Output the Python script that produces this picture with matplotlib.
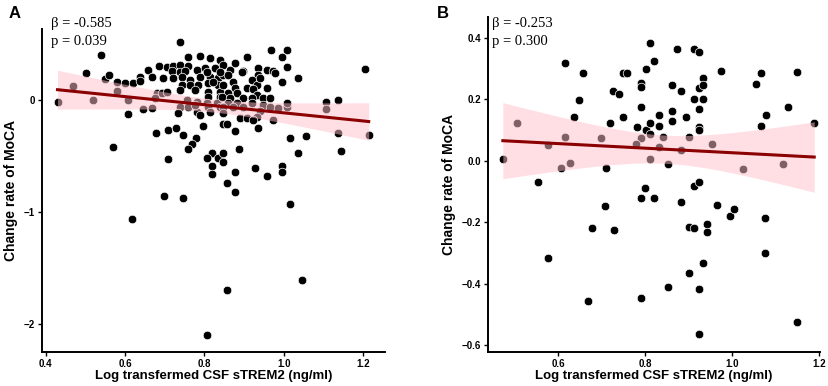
import numpy as np
import matplotlib
matplotlib.use('Agg')
import matplotlib.pyplot as plt

# panel A data (log CSF sTREM2 vs change rate of MoCA)
a_x = [0.430, 0.539, 0.501, 0.470, 0.520, 0.549, 0.559, 0.579, 0.579, 0.600,
       0.621, 0.608, 0.608, 0.570, 0.618, 0.738, 0.758, 0.789, 0.814, 0.839,
       0.685, 0.706, 0.721, 0.738, 0.758, 0.658, 0.718, 0.738, 0.751, 0.781,
       0.801, 0.826, 0.638, 0.668, 0.695, 0.721, 0.743, 0.763, 0.789, 0.814,
       0.834, 0.638, 0.743, 0.763, 0.784, 0.809, 0.834, 0.738, 0.776, 0.809,
       0.839, 0.680, 0.693, 0.706, 0.675, 0.809, 0.839, 0.756, 0.781, 0.806,
       0.832, 0.738, 0.758, 0.809, 0.839, 0.645, 0.668, 0.733, 0.781, 0.789,
       0.814, 0.678, 0.708, 0.728, 0.746, 0.796, 0.779, 0.769, 0.758, 0.708,
       0.819, 0.806, 0.834, 0.819, 0.819, 0.698, 0.746, 0.806, 0.847, 0.864,
       0.877, 0.897, 0.907, 0.935, 0.957, 0.972, 0.967, 1.008, 1.008, 0.995,
       1.035, 0.847, 0.859, 0.935, 0.995, 0.920, 0.872, 0.932, 0.847, 0.877,
       0.907, 0.922, 0.957, 0.859, 0.882, 0.932, 0.844, 0.864, 0.897, 0.920,
       0.947, 0.965, 0.859, 0.882, 0.920, 0.947, 0.847, 0.872, 0.897, 0.965,
       0.985, 1.008, 1.008, 0.847, 0.940, 0.932, 0.889, 0.907, 0.922, 0.972,
       0.847, 0.857, 0.877, 0.935, 1.015, 1.056, 1.035, 0.887, 0.847, 0.847,
       0.927, 0.877, 0.995, 0.995, 0.957, 0.857, 0.877, 1.015, 1.046, 0.857,
       1.204, 1.106, 1.106, 1.136, 1.214, 1.136, 1.144, 0.839, 0.894, 0.940,
       0.977, 0.776, 0.806, 0.821]
a_y = [-0.015, 0.402, 0.238, 0.125, 0.000, 0.185, 0.223, 0.163, 0.080, 0.155,
       0.155, 0.000, -0.128, -0.417, -1.065, 0.518, 0.384, 0.393, 0.375, 0.357,
       0.304, 0.295, 0.304, 0.313, 0.304, 0.268, 0.259, 0.250, 0.259, 0.268,
       0.286, 0.286, 0.205, 0.205, 0.196, 0.196, 0.205, 0.179, 0.205, 0.205,
       0.196, 0.170, 0.134, 0.134, 0.134, 0.152, 0.134, 0.089, 0.089, 0.071,
       0.071, 0.063, 0.063, 0.071, 0.018, 0.027, 0.027, 0.000, -0.018, -0.027,
       -0.027, -0.063, -0.063, -0.063, -0.063, -0.080, -0.071, -0.116, -0.107, -0.134,
       -0.107, -0.295, -0.268, -0.250, -0.313, -0.232, -0.339, -0.393, -0.438, -0.527,
       -0.473, -0.518, -0.518, -0.589, -0.661, -0.857, -0.875, -2.098, 0.313, 0.268,
       0.330, 0.259, 0.384, 0.286, 0.268, 0.259, 0.446, 0.446, 0.295, 0.384,
       0.196, 0.223, 0.223, 0.223, 0.161, 0.179, 0.161, 0.134, 0.134, 0.107,
       0.107, 0.098, 0.107, 0.063, 0.063, 0.045, 0.027, 0.018, 0.018, 0.018,
       0.018, 0.018, -0.027, -0.027, -0.027, -0.045, -0.063, -0.063, -0.063, -0.063,
       -0.071, -0.063, -0.027, -0.116, -0.098, -0.152, -0.161, -0.161, -0.179, -0.179,
       -0.214, -0.214, -0.277, -0.250, -0.339, -0.321, -0.473, -0.438, -0.473, -0.554,
       -0.607, -0.643, -0.589, -0.643, -0.679, -0.741, -0.821, -0.929, -1.607, -1.696,
       0.277, -0.018, -0.080, 0.000, -0.313, -0.295, -0.455, 0.250, 0.250, 0.196,
       0.241, -0.045, 0.250, 0.161]

# panel B data
b_x = [0.473, 0.505, 0.555, 0.576, 0.616, 0.616, 0.606, 0.628, 0.637, 0.648,
       0.657, 0.698, 0.710, 0.720, 0.727, 0.739, 0.749, 0.758, 0.749, 0.811,
       0.873, 0.913, 0.925, 0.821, 0.802, 0.790, 0.790, 0.861, 0.883, 0.934,
       0.925, 0.934, 0.913, 0.934, 0.975, 1.067, 1.055, 1.149, 0.790, 0.861,
       0.832, 0.894, 0.924, 1.128, 1.077, 0.781, 0.802, 0.811, 0.832, 0.861,
       0.924, 0.924, 1.067, 1.189, 0.790, 0.811, 0.779, 0.841, 0.902, 0.832,
       0.882, 0.955, 0.811, 0.852, 1.026, 1.118, 0.800, 0.913, 0.924, 0.708,
       0.677, 0.729, 0.576, 0.668, 0.790, 0.821, 0.882, 0.965, 0.995, 1.005,
       1.076, 0.902, 0.913, 0.943, 0.943, 1.076, 0.934, 0.902, 0.852, 0.924,
       0.790, 1.149, 0.924]
b_y = [0.005, 0.124, -0.068, 0.050, 0.317, 0.076, -0.023, -0.007, 0.141, 0.197,
       0.286, 0.073, -0.023, 0.124, 0.228, 0.217, 0.284, 0.286, 0.141, 0.382,
       0.362, 0.362, 0.354, 0.324, 0.297, 0.252, 0.239, 0.246, 0.228, 0.268,
       0.235, 0.246, 0.200, 0.200, 0.293, 0.284, 0.248, 0.287, 0.174, 0.162,
       0.149, 0.143, 0.167, 0.176, 0.149, 0.109, 0.100, 0.122, 0.114, 0.130,
       0.111, 0.100, 0.113, 0.122, 0.075, 0.087, 0.054, 0.076, 0.076, 0.044,
       0.035, 0.054, 0.005, -0.012, -0.027, -0.011, -0.088, -0.082, -0.068, -0.146,
       -0.220, -0.225, -0.315, -0.456, -0.120, -0.120, -0.135, -0.144, -0.179, -0.158,
       -0.185, -0.217, -0.220, -0.206, -0.232, -0.301, -0.334, -0.364, -0.410, -0.418,
       -0.446, -0.526, -0.565]

stats_a = ['\u03b2 = -0.585', 'p = 0.039']
stats_b = ['\u03b2 = -0.253', 'p = 0.300']


def fit_band(x, y, t=1.97):
    x = np.asarray(x)
    y = np.asarray(y)
    n = len(x)
    b1, b0 = np.polyfit(x, y, 1)
    grid = np.linspace(x.min(), x.max(), 100)
    yhat = b0 + b1 * grid
    resid = y - (b0 + b1 * x)
    s = np.sqrt(np.sum(resid ** 2) / (n - 2))
    sxx = np.sum((x - x.mean()) ** 2)
    se = s * np.sqrt(1 / n + (grid - x.mean()) ** 2 / sxx)
    return grid, yhat, yhat - t * se, yhat + t * se


def draw_panel(ax, x, y, stats, xlim, ylim, xticks, yticks, yfmt):
    ax.scatter(x, y, s=38, c='black', edgecolors='white', linewidths=0.5, zorder=2)
    grid, yhat, lo, hi = fit_band(x, y)
    ax.fill_between(grid, lo, hi, color='pink', alpha=0.5, lw=0, zorder=3)
    ax.plot(grid, yhat, color='#8b0000', lw=2.2, zorder=4)
    ax.set_xlim(xlim)
    ax.set_ylim(ylim)
    ax.set_xticks(xticks)
    ax.set_yticks(yticks)
    ax.set_yticklabels([yfmt.format(v).replace('-', '\u2212') for v in yticks])
    ax.set_xticklabels(['{:.1f}'.format(v) for v in xticks])
    for sp in ['top', 'right']:
        ax.spines[sp].set_visible(False)
    for sp in ['left', 'bottom']:
        ax.spines[sp].set_linewidth(1.4)
    ax.tick_params(length=3, width=1, labelsize=7, pad=2)
    for lab in ax.get_xticklabels() + ax.get_yticklabels():
        lab.set_fontweight('bold')
        lab.set_family('Liberation Sans')
    ax.set_xlabel('Log transfermed CSF sTREM2 (ng/ml)', fontsize=9.5, fontweight='bold',
                  family='Liberation Sans', labelpad=1)
    ax.set_ylabel('Change rate of MoCA', fontsize=10, fontweight='bold',
                  family='Liberation Sans', labelpad=4)


fig = plt.figure(figsize=(8.29, 3.86), dpi=100)
ax1 = fig.add_axes([0.0507, 0.088, 0.4137, 0.837])
ax2 = fig.add_axes([0.5887, 0.088, 0.4003, 0.868])

draw_panel(ax1, a_x, a_y, stats_a, (0.391, 1.255), (-2.25, 0.634),
           [0.4, 0.6, 0.8, 1.0, 1.2], [-2, -1, 0], '{:d}')
draw_panel(ax2, b_x, b_y, stats_b, (0.439, 1.202), (-0.622, 0.467),
           [0.6, 0.8, 1.0, 1.2], [-0.6, -0.4, -0.2, 0.0, 0.2, 0.4], '{:.1f}')

# stats annotations in figure pixels-from-top
for xp, stats in [(51, stats_a), (492, stats_b)]:
    fig.text(xp / 829, 1 - 24 / 386, stats[0], family='Liberation Serif',
             fontsize=10.5, va='center', ha='left')
    fig.text(xp / 829, 1 - 41 / 386, stats[1], family='Liberation Serif',
             fontsize=10.5, va='center', ha='left')

fig.text(0.010, 0.985, 'A', fontsize=12, fontweight='bold', family='Liberation Sans',
         va='top', ha='left')
fig.text(0.527, 0.985, 'B', fontsize=12, fontweight='bold', family='Liberation Sans',
         va='top', ha='left')

plt.savefig('out.png', dpi=100)
